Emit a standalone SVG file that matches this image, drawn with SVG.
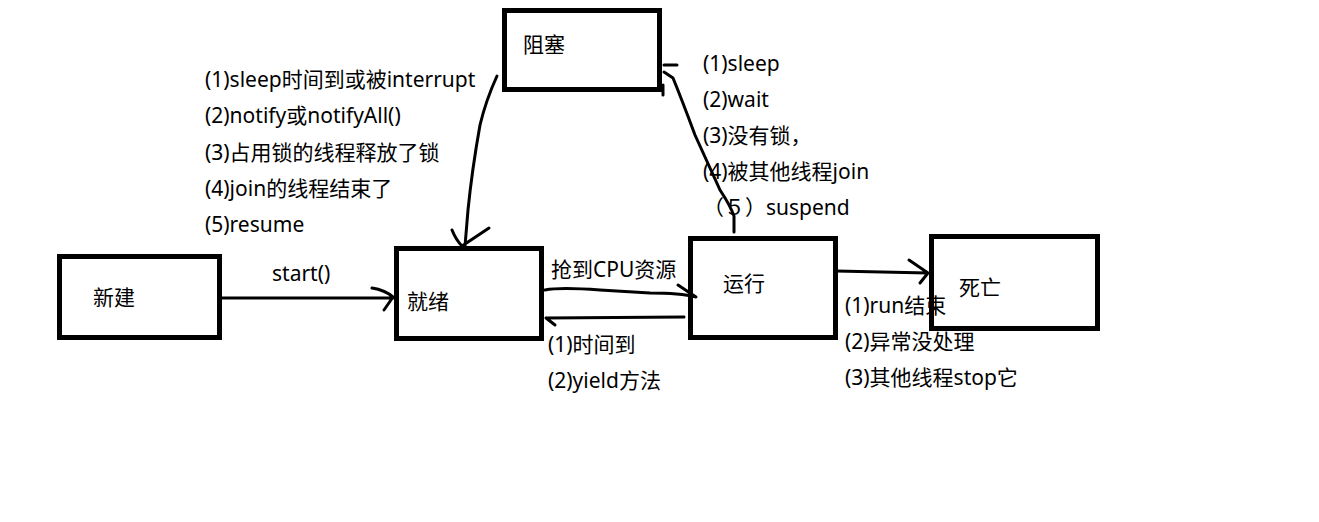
<svg xmlns="http://www.w3.org/2000/svg" width="1319" height="522" viewBox="0 0 1319 522">
<style>
.box{fill:none;stroke:#000;stroke-width:5}
.t{font-family:"Noto Sans","Noto Sans CJK SC",sans-serif;font-size:21px;fill:#000}
.ln{fill:none;stroke:#000;stroke-width:3;stroke-linecap:round;stroke-linejoin:round}
</style>
<rect width="1319" height="522" fill="#fff"/>
<g id="node-new"><rect class="box" x="59.5" y="256.5" width="160" height="81"/><text class="t" x="93" y="305">新建</text></g>
<g id="node-ready"><rect class="box" x="396.5" y="248.5" width="145" height="90"/><text class="t" x="407" y="309">就绪</text></g>
<g id="node-blocked"><rect class="box" x="504.5" y="10.5" width="155" height="79"/><text class="t" x="523" y="52">阻塞</text></g>
<g id="node-running"><rect class="box" x="690.5" y="238.5" width="145" height="99"/><text class="t" x="723" y="291">运行</text></g>
<g id="node-dead"><rect class="box" x="931.5" y="236.5" width="166" height="92"/><text class="t" x="959" y="295">死亡</text></g>
<g id="connectors">
<path class="ln" d="M222 298 L393 298 M372 288 Q385 290 393 297 L384 310"/>
<path class="ln" d="M497 76 Q486 100 480 125 Q472 170 468 210 L465 246 M452 230 Q456 240 462 246 L489 228"/>
<path class="ln" d="M734 232 L734 216 Q730 205 720 190 L695 135 Q682 100 673 78 L664 72 M664 65 L677 65 M663 85 L663 95"/>
<path class="ln" d="M545 290 Q560 287 600 290 L650 293 Q680 293 696 297 M678 285 L696 297"/>
<path class="ln" d="M684 317 L546 318 M546 318 L555 325"/>
<path class="ln" d="M836 271 L928 273 M909 260 L928 273 L920 283"/>
</g>
<g id="labels">
<text class="t" x="272" y="281">start()</text>
<text class="t" x="205" y="87">(1)sleep时间到或被interrupt</text>
<text class="t" x="205" y="123">(2)notify或notifyAll()</text>
<text class="t" x="205" y="160">(3)占用锁的线程释放了锁</text>
<text class="t" x="205" y="196">(4)join的线程结束了</text>
<text class="t" x="205" y="232">(5)resume</text>
<text class="t" x="703" y="71">(1)sleep</text>
<text class="t" x="703" y="107">(2)wait</text>
<text class="t" x="703" y="143">(3)没有锁，</text>
<text class="t" x="703" y="179">(4)被其他线程join</text>
<text class="t" x="703" y="215">（５）suspend</text>
<text class="t" x="551" y="277">抢到CPU资源</text>
<text class="t" x="548" y="352">(1)时间到</text>
<text class="t" x="548" y="388">(2)yield方法</text>
<text class="t" x="845" y="313">(1)run结束</text>
<text class="t" x="845" y="349">(2)异常没处理</text>
<text class="t" x="845" y="385">(3)其他线程stop它</text>
</g>
</svg>
